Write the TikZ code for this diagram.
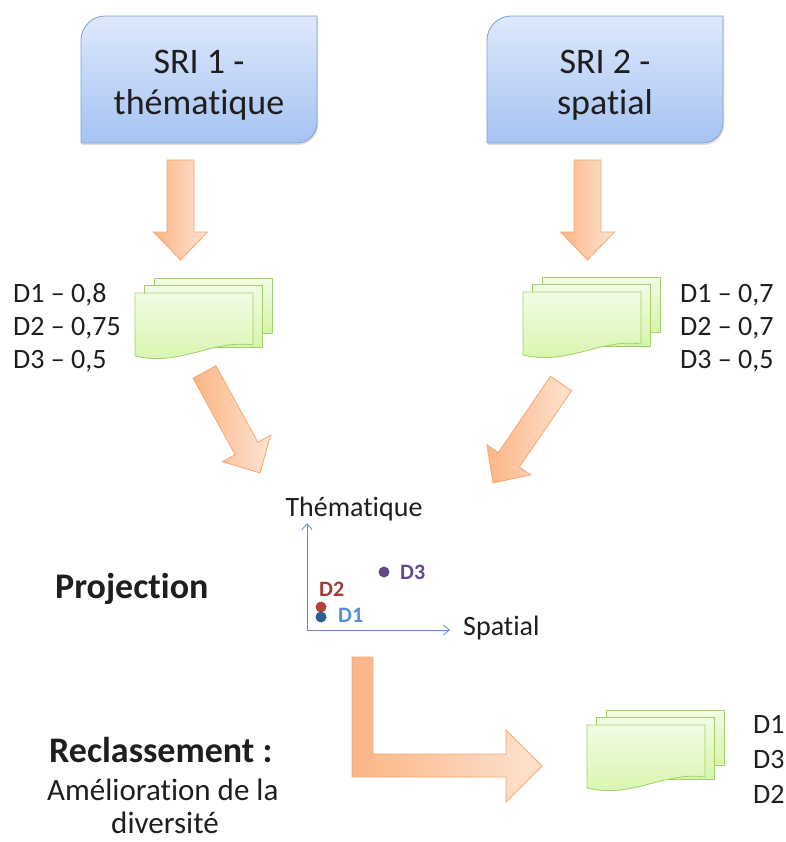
\documentclass[tikz,border=0pt]{standalone}
\usepackage{fontspec}
\setmainfont{Carlito}[Ligatures=NoCommon]
\usetikzlibrary{calc,shadows,arrows.meta}

\definecolor{bleuhaut}{HTML}{DDE8FB}
\definecolor{bleubas}{HTML}{A6C3F2}
\definecolor{bleutrait}{HTML}{7EA1D6}
\definecolor{verthaut}{HTML}{F2FCE6}
\definecolor{vertbas}{HTML}{D5F5A8}
\definecolor{verttrait}{HTML}{A2CF6C}
\definecolor{orfonce}{HTML}{FBB585}
\definecolor{orclair}{HTML}{FDE3D1}
\definecolor{ortrait}{HTML}{F6A66E}
\definecolor{axebleu}{HTML}{5B8ED2}
\definecolor{dun}{HTML}{558ED5}
\definecolor{dunpt}{HTML}{2F5F91}
\definecolor{ddeux}{HTML}{A33C39}
\definecolor{ddeuxpt}{HTML}{B5403C}
\definecolor{dtrois}{HTML}{64498A}
\definecolor{texte}{HTML}{1E1E1E}

%% block arrow: [options] tail, tip, shaft half width, head half width
\newcommand{\fleche}[5][]{%
  \coordinate (base) at ($(#3)!28pt!(#2)$);
  \draw[grosse fleche,#1] ($(#2)!#4!90:(#3)$) -- ($(base)!#4!90:(#3)$)
    -- ($(base)!#5!90:(#3)$) -- (#3) -- ($(base)!#5!-90:(#3)$)
    -- ($(base)!#4!-90:(#3)$) -- ($(#2)!#4!-90:(#3)$) -- cycle;}

\tikzset{
  pile/.pic={
    \path[feuille] (19,-15) rectangle (137,40);
    \path[feuille] (9.5,-8) rectangle (127.5,54);
    \path[feuille] (0,0) -- (118,0) -- (118,52)
      .. controls (78,46) and (45,74) .. (0,63) -- cycle;
  },
  sri/.pic={
    \path[boite] (0,127) -- (0,24) .. controls (0,11) and (11,0) .. (24,0)
      -- (236,0) -- (236,107) .. controls (236,118) and (227,127) .. (216,127) -- cycle;
  }
}

\begin{document}
\begin{tikzpicture}[x=1pt,y=-1pt,
  boite/.style={draw=bleutrait, line width=0.8pt, top color=bleuhaut, bottom color=bleubas,
    drop shadow={opacity=0.25, shadow xshift=1pt, shadow yshift=-2pt}},
  feuille/.style={draw=verttrait, line width=0.8pt, top color=verthaut, bottom color=vertbas},
  grosse fleche/.style={draw=ortrait, line width=0.8pt, left color=orfonce, right color=orclair},
  axe/.style={draw=axebleu, line width=0.8pt, -{Straight Barb[length=6pt,width=10pt]}},
  titre/.style={align=center, text=texte, font=\fontsize{36}{41}\selectfont},
  score/.style={anchor=base west, text=texte, inner sep=0pt, font=\fontsize{28}{33}\selectfont},
  etape/.style={text=texte, inner sep=0pt, font=\fontsize{36}{40}\selectfont\bfseries},
  soustitre/.style={text=texte, inner sep=0pt, font=\fontsize{31}{37}\selectfont},
  axelabel/.style={text=texte, inner sep=0pt, font=\fontsize{28}{32}\selectfont},
  dlabel/.style={anchor=base west, inner sep=0pt, font=\fontsize{22}{26}\selectfont\bfseries},
  point/.style={circle, inner sep=0pt, minimum size=11pt}]

\useasboundingbox (0,0) rectangle (785,842);

%% Two systems
\pic (boite1) at (81,16) {sri};
\pic (boite2) at (487,16) {sri};
\node[titre] (sri1) at (199,85) {SRI 1 -\\thématique};
\node[titre] (sri2) at (605,85) {SRI 2 -\\spatial};

%% Result lists
\pic (liste1) at (135,293) {pile};
\pic (liste2) at (523,292) {pile};
\node[score] (s11) at (13,302) {D1 – 0,8};
\node[score] (s12) at (13,335) {D2 – 0,75};
\node[score] (s13) at (13,368) {D3 – 0,5};
\node[score] (s21) at (680,302) {D1 – 0,7};
\node[score] (s22) at (680,335) {D2 – 0,7};
\node[score] (s23) at (680,368) {D3 – 0,5};

%% Arrows down
\coordinate (h1) at (180.5,160);
\coordinate (b1) at (180.5,260);
\coordinate (h2) at (587.5,160);
\coordinate (b2) at (587.5,260);
\fleche{h1}{b1}{13.5pt}{27pt}
\fleche{h2}{b2}{13.5pt}{27pt}

%% Arrows to the projection
\coordinate (g1) at (204.5,372);
\coordinate (g2) at (260,473);
\coordinate (r1) at (561,383.5);
\coordinate (r2) at (493,483);
\fleche{g1}{g2}{13pt}{27.5pt}
\fleche{r1}{r2}{12.8pt}{26.5pt}

%% Projection
\node[etape, anchor=base west] (proj) at (55,598) {Projection};
\coordinate (O) at (307,630);
\coordinate (ytop) at (307,523);
\coordinate (xend) at (450,630);
\draw[axe] (O) -- (ytop);
\draw[axe] (O) -- (xend);
\node[axelabel, anchor=base] (them) at (354,516) {Thématique};
\node[axelabel, anchor=base west] (spat) at (463,635) {Spatial};
\node[point, fill=dtrois] (p3) at (384,572) {};
\node[point, fill=ddeuxpt] (p2) at (321,607) {};
\node[point, fill=dunpt] (p1) at (321,617) {};
\node[dlabel, text=dtrois] (l3) at (400,579) {D3};
\node[dlabel, text=ddeux] (l2) at (319,596) {D2};
\node[dlabel, text=dun] (l1) at (338,622) {D1};

%% Reranking
\draw[grosse fleche] (352,657) -- (373,657) -- (373,754) -- (506,754) -- (506,730)
  -- (542,766) -- (506,802) -- (506,777) -- (352,777) -- cycle;
\pic (liste3) at (587,725) {pile};
\node[score] (f1) at (753,733) {D1};
\node[score] (f2) at (753,768) {D3};
\node[score] (f3) at (753,803) {D2};
\node[etape, anchor=base west] (recl) at (49,762) {Reclassement :};
\node[soustitre, anchor=base west] (amel) at (47,800) {Amélioration de la};
\node[soustitre, anchor=base] (div) at (165,833) {diversité};

\end{tikzpicture}
\end{document}
